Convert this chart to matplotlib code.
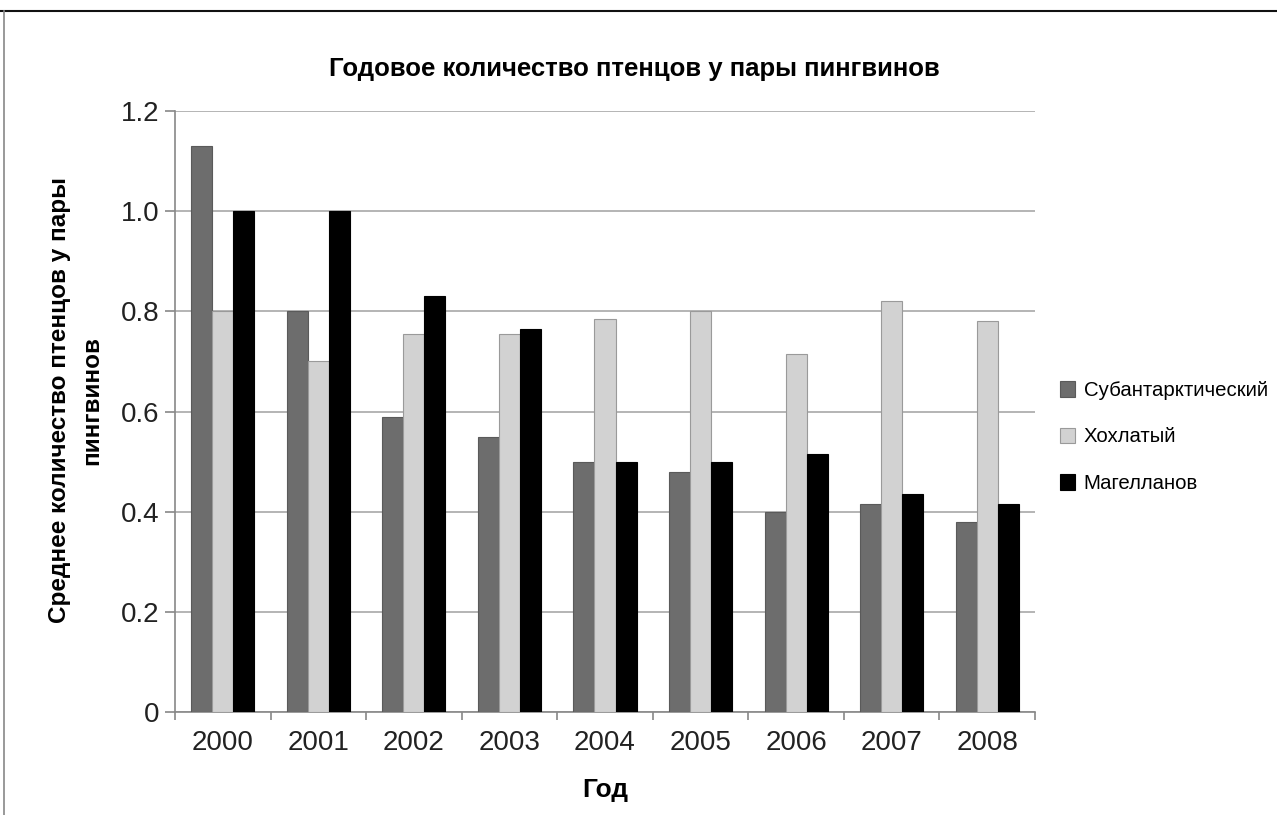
import matplotlib
matplotlib.use("Agg")
import matplotlib.pyplot as plt
from matplotlib.lines import Line2D
import numpy as np

years = ["2000", "2001", "2002", "2003", "2004", "2005", "2006", "2007", "2008"]
subantarctic = [1.13, 0.80, 0.59, 0.55, 0.50, 0.48, 0.40, 0.415, 0.38]
crested = [0.80, 0.70, 0.755, 0.755, 0.785, 0.80, 0.715, 0.82, 0.78]
magellanic = [1.00, 1.00, 0.83, 0.765, 0.50, 0.50, 0.515, 0.435, 0.415]
series_names = ["Субантарктический", "Хохлатый", "Магелланов"]
yticks = [0, 0.2, 0.4, 0.6, 0.8, 1.0, 1.2]
ytick_labels = ["0", "0.2", "0.4", "0.6", "0.8", "1.0", "1.2"]

plt.rcParams['font.family'] = ['Liberation Sans', 'DejaVu Sans']

fig = plt.figure(figsize=(12.77, 8.15), dpi=100)
ax = fig.add_axes([175/1277, 103/815, 860/1277, 601/815])

x = np.arange(len(years))
w = 0.22
colors = ["#6d6d6d", "#d2d2d2", "#000000"]
edges = ["#5a5a5a", "#9a9a9a", "#000000"]
for i, (vals, name) in enumerate(zip([subantarctic, crested, magellanic], series_names)):
    ax.bar(x + (i - 1) * w, vals, width=w, color=colors[i], edgecolor=edges[i],
           linewidth=0.8, label=name, zorder=3)

ax.set_xlim(-0.5, len(years) - 0.5)
ax.set_ylim(0, 1.2)
ax.set_yticks(yticks)
ax.set_yticklabels(ytick_labels, fontsize=20, color="#222222")
ax.yaxis.grid(True, color="#a8a8a8", linewidth=1.2, zorder=0)
ax.set_axisbelow(True)

ax.set_xticks(np.arange(-0.5, len(years)))
ax.set_xticklabels([])
ax.set_xticks(x, minor=True)
ax.set_xticklabels(years, minor=True, fontsize=20, color="#222222")
ax.tick_params(axis='x', which='major', length=6, width=1.2, color="#888888", direction='out')
ax.tick_params(axis='x', which='minor', length=0, pad=13)
ax.tick_params(axis='y', length=7, width=1.2, color="#888888", pad=4)

for s in ["top", "right"]:
    ax.spines[s].set_visible(False)
for s in ["left", "bottom"]:
    ax.spines[s].set_color("#888888")
    ax.spines[s].set_linewidth(1.2)

fig.text(0.497, 0.915, "Годовое количество птенцов у пары пингвинов", ha="center", va="center",
         fontsize=18.5, fontweight="bold")
fig.text(0.474, 0.031, "Год", ha="center", va="center", fontsize=19, fontweight="bold")
fig.text(0.059, 1 - 400/815, "Среднее количество птенцов у пары\nпингвинов", ha="center", va="center",
         rotation=90, fontsize=17.5, fontweight="bold", linespacing=1.5)

leg = fig.legend(loc="center left", bbox_to_anchor=(1056/1277, 1 - 437/815), frameon=False,
                 prop={'size': 14.7}, handlelength=0.75, handleheight=0.8,
                 handletextpad=0.4, labelspacing=1.35, borderaxespad=0, borderpad=0.2)

fig.add_artist(Line2D([0, 1], [1 - 11/815, 1 - 11/815], transform=fig.transFigure,
                      color="#111111", linewidth=1.5))
fig.add_artist(Line2D([4/1277, 4/1277], [0, 1 - 11/815], transform=fig.transFigure,
                      color="#888888", linewidth=1.2))

fig.savefig("out.png", dpi=100)
